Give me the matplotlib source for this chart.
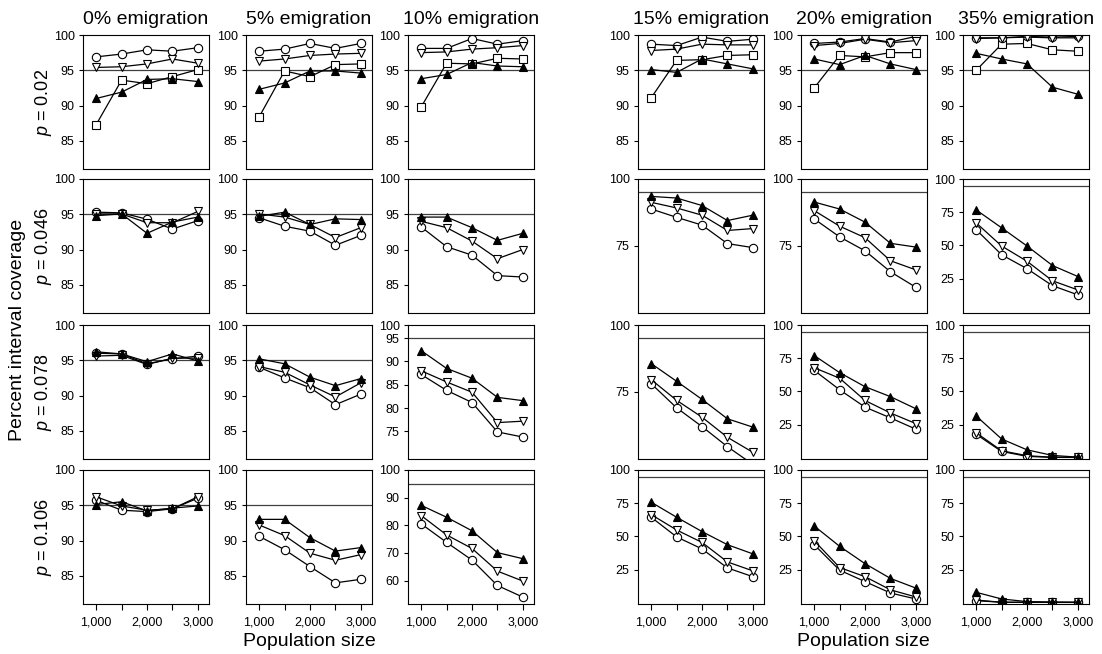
import matplotlib.pyplot as plt

plt.rcParams['font.family'] = ['Liberation Sans', 'DejaVu Sans']
plt.rcParams['mathtext.fontset'] = 'custom'
plt.rcParams['mathtext.it'] = 'Liberation Sans:italic'

# データ
pop_size = [1000, 1500, 2000, 2500, 3000]
emigration = ['0%', '5%', '10%', '15%', '20%', '35%']
p_labels = ['0.02', '0.046', '0.078', '0.106']

# open circles [row][col][pop]
open_circle = [
    [[96.9, 97.3, 97.9, 97.7, 98.2], [97.7, 98.0, 98.8, 98.1, 98.8], [98.1, 98.1, 99.5, 98.7, 99.2],
     [98.7, 98.5, 99.7, 99.1, 99.4], [98.8, 99.0, 99.5, 99.0, 99.8], [99.6, 99.6, 99.8, 99.7, 99.8]],
    [[95.3, 95.2, 94.3, 92.9, 94.1], [94.5, 93.3, 92.6, 90.6, 92.0], [93.2, 90.4, 89.2, 86.3, 86.1],
     [88.8, 85.7, 82.8, 75.9, 74.4], [85.1, 78.4, 73.2, 65.4, 59.6], [61.8, 42.9, 32.4, 19.6, 12.7]],
    [[96.0, 95.9, 94.5, 95.2, 95.6], [94.0, 92.5, 91.1, 88.7, 90.2], [87.2, 83.8, 81.2, 74.9, 73.8],
     [78.1, 69.1, 62.1, 54.6, 48.0], [65.8, 51.2, 38.1, 30.0, 21.5], [17.6, 4.7, 1.0, 0.2, 0.2]],
    [[95.7, 94.3, 94.1, 94.5, 96.0], [90.6, 88.7, 86.3, 84.0, 84.5], [80.5, 73.8, 67.4, 58.2, 54.0],
     [64.4, 49.6, 40.5, 26.2, 19.6], [43.7, 24.5, 15.9, 7.3, 2.8], [1.5, 0.3, 0.3, 0.2, 0.2]],
]

# open down-triangles
open_tri = [
    [[95.4, 95.5, 95.9, 96.6, 96.0], [96.3, 96.6, 97.1, 97.3, 97.4], [97.5, 97.6, 98.0, 98.2, 98.5],
     [97.8, 98.0, 98.7, 98.6, 98.6], [98.5, 98.8, 99.4, 98.9, 99.2], [99.5, 99.6, 99.7, 99.6, 99.6]],
    [[95.05, 95.05, 93.8, 93.8, 95.4], [95.05, 94.6, 93.55, 91.7, 93.1], [94.0, 93.1, 91.2, 88.7, 90.0],
     [91.3, 89.2, 86.5, 80.8, 81.5], [88.2, 82.4, 78.1, 69.5, 66.1], [66.9, 49.5, 38.0, 23.3, 16.4]],
    [[95.6, 95.7, 94.4, 95.3, 95.3], [94.1, 93.3, 91.5, 89.8, 91.8], [88.0, 85.6, 83.4, 76.9, 77.2],
     [79.6, 71.9, 65.6, 58.1, 52.5], [67.8, 59.9, 43.1, 33.7, 25.7], [18.8, 5.2, 1.5, 0.3, 0.3]],
    [[96.2, 94.9, 94.3, 94.5, 96.2], [92.2, 90.7, 88.2, 87.2, 88.0], [83.5, 76.5, 71.6, 63.4, 59.8],
     [66.4, 54.8, 45.4, 30.7, 24.0], [46.7, 26.5, 19.6, 9.7, 4.3], [2.0, 0.3, 0.3, 0.2, 0.2]],
]

# filled up-triangles
filled_tri = [
    [[91.0, 91.9, 93.7, 93.8, 93.4], [92.3, 93.2, 94.9, 94.9, 94.6], [93.8, 94.4, 96.1, 95.6, 95.5],
     [95.1, 94.7, 96.6, 95.9, 95.2], [96.6, 95.8, 97.1, 95.9, 95.1], [97.4, 96.6, 95.9, 92.6, 91.6]],
    [[94.8, 95.05, 92.3, 93.9, 94.6], [94.7, 95.3, 93.55, 94.35, 94.25], [94.6, 94.6, 93.1, 91.3, 92.3],
     [93.5, 92.9, 90.1, 84.5, 86.5], [91.4, 88.8, 83.9, 76.0, 74.6], [76.7, 63.2, 49.5, 34.8, 26.5]],
    [[96.2, 95.9, 94.8, 95.9, 94.9], [95.2, 94.5, 92.6, 91.4, 92.4], [92.3, 88.5, 86.4, 82.3, 81.6],
     [85.6, 79.0, 72.25, 65.0, 61.9], [77.0, 64.1, 53.5, 46.0, 36.9], [31.4, 14.1, 5.9, 1.7, 0.4]],
    [[95.1, 95.5, 94.2, 94.6, 94.9], [93.0, 93.0, 90.4, 88.5, 89.0], [87.2, 82.9, 78.0, 70.1, 67.9],
     [75.7, 64.4, 53.6, 43.7, 36.8], [57.8, 42.5, 29.4, 18.3, 11.0], [7.8, 2.8, 0.8, 0.5, 0.3]],
]

# open squares (only p = 0.02)
open_square = [
    [87.3, 93.6, 93.1, 94.1, 95.1], [88.4, 94.9, 94.1, 95.8, 95.9], [89.8, 96.0, 95.9, 96.7, 96.6],
    [91.1, 96.4, 96.5, 97.1, 97.2], [92.5, 97.1, 96.9, 97.5, 97.5], [95.0, 98.7, 98.8, 97.9, 97.7],
]

# 軸の範囲と目盛
lim_a, tick_a = (81, 100), [85, 90, 95, 100]
lim_b, tick_b = (50, 100), [75, 100]
lim_c, tick_c = (-1, 100), [25, 50, 75, 100]
lim_d, tick_d = (51.5, 100), [60, 70, 80, 90, 100]
lim_e, tick_e = (69.1, 97.8), [75, 80, 85, 90, 95, 97.8]
panel_axes = [
    [(lim_a, tick_a)] * 6,
    [(lim_a, tick_a)] * 3 + [(lim_b, tick_b), (lim_b, tick_b), (lim_c, tick_c)],
    [(lim_a, tick_a), (lim_a, tick_a), (lim_e, tick_e), (lim_b, tick_b), (lim_c, tick_c), (lim_c, tick_c)],
    [(lim_a, tick_a), (lim_a, tick_a), (lim_d, tick_d), (lim_c, tick_c), (lim_c, tick_c), (lim_c, tick_c)],
]

W, H = 1102, 654
fig = plt.figure(figsize=(W / 100, H / 100), dpi=100)
col_x = [83, 246, 408, 638, 801, 963]
row_top = [35, 179, 325, 470]
ax_w, ax_h = 126, 134

line_kw = dict(color="black", lw=0.9, markersize=6, markeredgewidth=0.8, markeredgecolor="black")

for r in range(4):
    for c in range(6):
        ax = fig.add_axes([col_x[c] / W, 1 - (row_top[r] + ax_h) / H, ax_w / W, ax_h / H])
        ax.axhline(95, color="0.25", lw=0.9, zorder=1)
        if r == 0:
            ax.plot(pop_size, open_square[c], marker="s", markerfacecolor="white", **line_kw)
        ax.plot(pop_size, open_circle[r][c], marker="o", markerfacecolor="white", **line_kw)
        ax.plot(pop_size, open_tri[r][c], marker="v", markerfacecolor="white", **line_kw)
        ax.plot(pop_size, filled_tri[r][c], marker="^", markerfacecolor="black", **line_kw)

        ylim, yticks = panel_axes[r][c]
        ax.set_xlim(740, 3220)
        ax.set_ylim(*ylim)
        labels = ["100" if t == 97.8 else str(int(t)) for t in yticks]
        ax.set_yticks(yticks, labels)
        ax.tick_params(axis="y", labelsize=9, length=3, width=0.8, pad=3)
        for sp in ax.spines.values():
            sp.set_linewidth(0.8)

        if r == 3:
            ax.set_xticks(pop_size)
            ax.set_xticklabels(["1,000", "", "2,000", "", "3,000"])
            ax.tick_params(axis="x", labelsize=9, length=4, width=0.8, pad=5)
        else:
            ax.set_xticks([])

        if r == 0:
            ax.set_title(emigration[c] + " emigration", fontsize=14, pad=8)

for r in range(4):
    yc = 1 - (row_top[r] + ax_h / 2) / H
    fig.text(43 / W, yc, r"$\mathit{p}$ = " + p_labels[r], rotation=90,
             ha="center", va="center", fontsize=13)

fig.text(18 / W, 1 - 330 / H, "Percent interval coverage", rotation=90,
         ha="center", va="center", fontsize=14)
fig.text(309 / W, 1 - 641 / H, "Population size", ha="center", va="center", fontsize=14)
fig.text(863 / W, 1 - 641 / H, "Population size", ha="center", va="center", fontsize=14)

fig.savefig("out.png", dpi=100)
